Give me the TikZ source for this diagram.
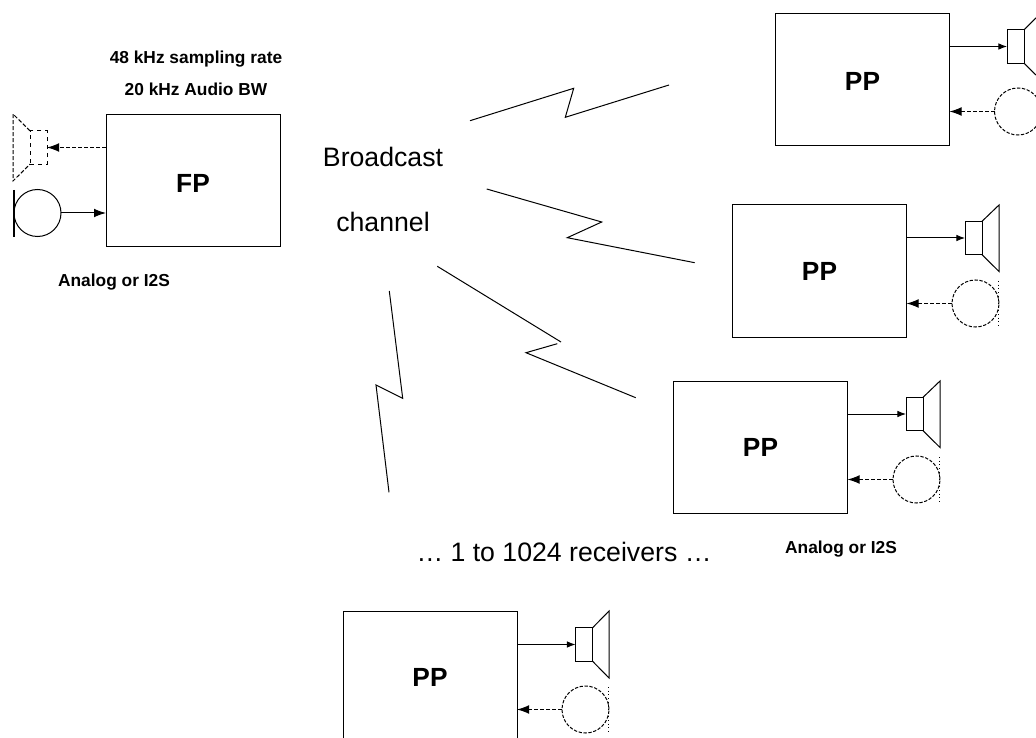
\documentclass[tikz,border=0pt]{standalone}
\usepackage{fontspec}
\setmainfont{Liberation Sans}
\usetikzlibrary{arrows.meta}
\tikzstyle{arrow} = [-{Latex[length=6.5pt,width=5pt]}]
\tikzstyle{bigarrow} = [-{Latex[length=9pt,width=6.5pt]}]
\tikzstyle{dasharrow} = [bigarrow, dash pattern=on 3pt off 1.5pt]
\tikzstyle{unitbox} = [rectangle, draw=black, minimum width=130.5pt, minimum height=99pt, outer sep=0pt, font=\bfseries\fontsize{19.7pt}{22pt}\selectfont]
\tikzstyle{spkbox} = [rectangle, draw=black, minimum width=12.75pt, minimum height=25pt, outer sep=0pt, inner sep=0pt]
\tikzstyle{micro} = [circle, draw=black, minimum size=35.25pt, outer sep=0pt, inner sep=0pt]
\tikzstyle{micdash} = [micro, dash pattern=on 2.5pt off 1.2pt]
\tikzstyle{boldnote} = [font=\bfseries\fontsize{13pt}{15pt}\selectfont]
\tikzstyle{plainnote} = [font=\fontsize{20pt}{24pt}\selectfont]
\begin{document}
\begin{tikzpicture}[x=.75pt, y=-.75pt, line width=.75pt]
      \useasboundingbox (0,0) rectangle (1036,738);
      \clip (0,0) rectangle (1036,738);

      % transmitter
      \node (FP) [unitbox] at (193,180.5) {\raisebox{-2pt}[\height][0pt]{FP}};
      \node (spkFP) [spkbox, dashed] at (38.5,147.5) {};
      \draw [dash pattern=on 3pt off 1.5pt] (spkFP.north west) -- (13,114) -- (13,181) -- (spkFP.south west);
      \node (micFP) [micro] at (37.5,213) {};
      \draw [line width=1pt] (14,190) -- (14,237);
      \draw [dasharrow] (FP.west |- spkFP) -- (spkFP);
      \draw [bigarrow] (micFP) -- (FP.west |- micFP);
      \node (rate) [boldnote] at (196,59) {48 kHz sampling rate};
      \node (bw) [boldnote] at (196,89) {20 kHz Audio BW};
      \node (inFP) [boldnote] at (114,282.5) {Analog or I2S};

      \node (chanA) [plainnote] at (383,157) {Broadcast};
      \node (chanB) [plainnote] at (383,222) {channel};

      % receivers
      \node (ppA) [unitbox] at (862.5,79.5) {\raisebox{-1.5pt}[\height][0pt]{PP}};
      \node (spkA) [spkbox] at (1015.5,46.5) {};
      \draw (spkA.north east) -- (1041,13) -- (1041,80) -- (spkA.south east);
      \node (micA) [micdash] at (1018,111.5) {};
      \draw [arrow] (ppA.east |- spkA) -- (spkA);
      \draw [dasharrow] (micA) -- (ppA.east |- micA);

      \node (ppB) [unitbox] at (819.5,271) {PP};
      \node (spkB) [spkbox] at (973.5,238) {};
      \draw (spkB.north east) -- (999,205) -- (999,271.5) -- (spkB.south east);
      \node (micB) [micdash] at (975.5,303.5) {};
      \draw [dotted] (998.5,281) -- (998.5,327);
      \draw [arrow] (ppB.east |- spkB) -- (spkB);
      \draw [dasharrow] (micB) -- (ppB.east |- micB);

      \node (ppC) [unitbox] at (760.5,447) {PP};
      \node (spkC) [spkbox] at (914.5,414) {};
      \draw (spkC.north east) -- (940,381) -- (940,447.5) -- (spkC.south east);
      \node (micC) [micdash] at (916.5,479.5) {};
      \draw [dotted] (939.5,457) -- (939.5,503);
      \draw [arrow] (ppC.east |- spkC) -- (spkC);
      \draw [dasharrow] (micC) -- (ppC.east |- micC);

      \node (ppD) [unitbox] at (430,677) {PP};
      \node (spkD) [spkbox] at (584,644.5) {};
      \draw (spkD.north east) -- (609,611) -- (609,678) -- (spkD.south east);
      \node (micD) [micdash] at (585.5,709.5) {};
      \draw [dotted] (608,687) -- (608,733);
      \draw [arrow] (ppD.east |- spkD) -- (spkD);
      \draw [dasharrow] (micD) -- (ppD.east |- micD);

      \node (count) [plainnote] at (564,552) {… 1 to 1024 receivers …};
      \node (inPP) [boldnote] at (841,549.5) {Analog or I2S};

      % radio links
      \draw (470,120.7) -- (573.7,88.3) -- (565.3,117.3) -- (669,85);
      \draw (486.7,189) -- (601.7,222) -- (567.3,237.7) -- (694.7,262.7);
      \draw (437.3,266.3) -- (561,342);
      \draw (557.3,343.7) -- (526,352.7) -- (635.7,397.7);
      \draw (389.3,291) -- (402.7,398.3) -- (376,385) -- (389,492.3);
\end{tikzpicture}
\end{document}
